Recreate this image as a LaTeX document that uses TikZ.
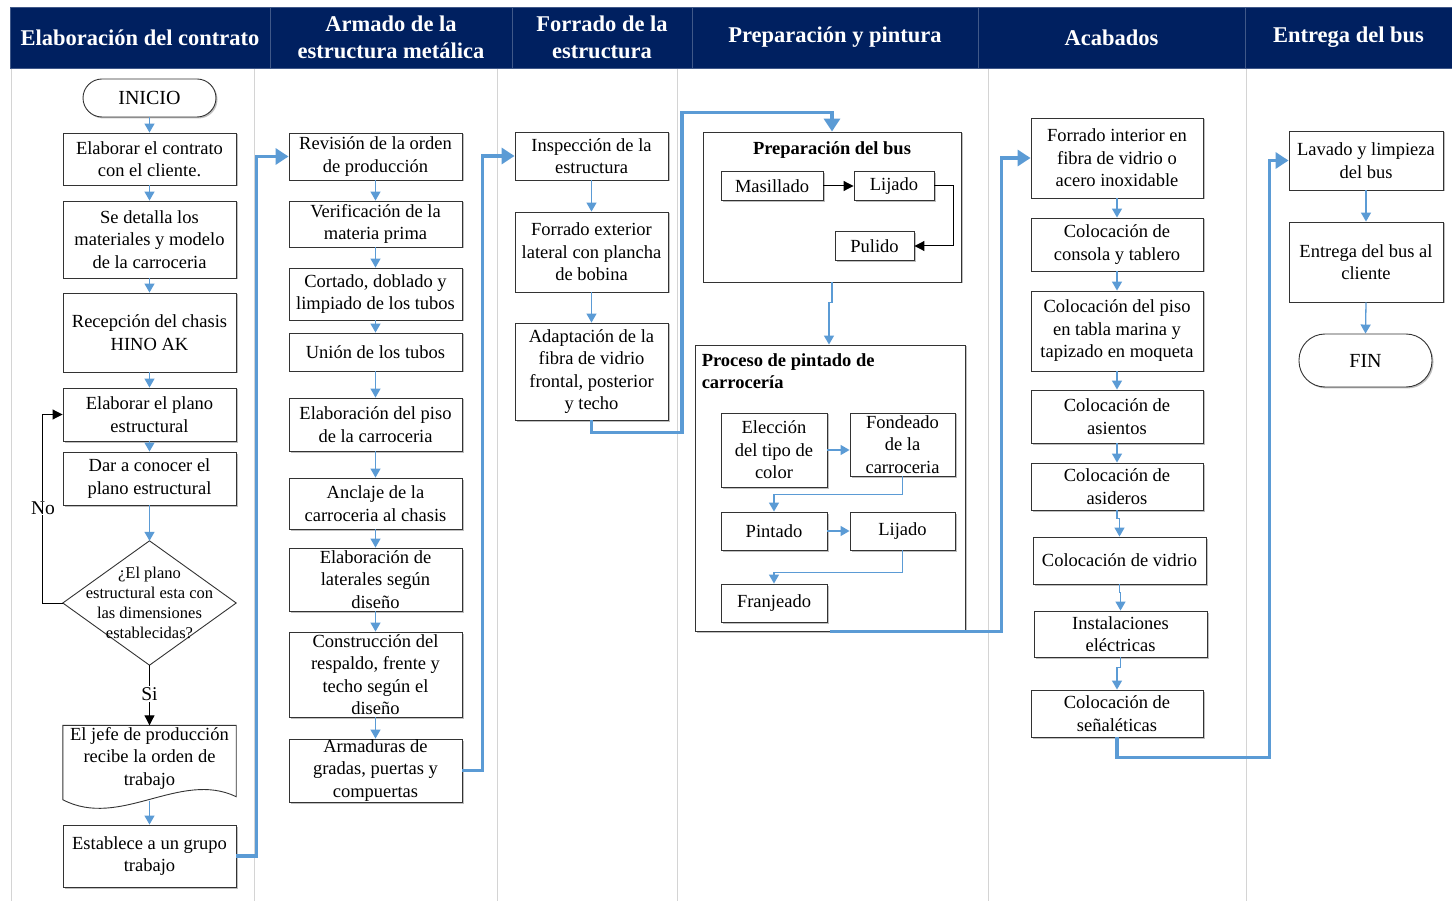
\documentclass[tikz,border=0pt]{standalone}
\usepackage{fontspec}
\setmainfont{Liberation Serif}
\usetikzlibrary{arrows.meta,shadows,calc}
\definecolor{navy}{HTML}{002060}
\definecolor{ablue}{HTML}{5B9BD5}
\definecolor{lanec}{HTML}{D4D4D4}
\tikzset{
  box/.style={draw=black!80, fill=white, line width=0.9pt, align=center, inner sep=0pt,
    font=\fontsize{18.5}{22.5}\selectfont,
    drop shadow={shadow xshift=1.5pt, shadow yshift=-1.5pt, fill=black, opacity=0.25}},
  term/.style={box, rounded corners=19pt, font=\fontsize{20}{22.5}\selectfont},
  hdr/.style={fill=navy, draw=navy!75!white, line width=0.6pt, text=white, align=center, inner sep=0pt,
    font=\bfseries\fontsize{22.5}{27}\selectfont},
  lanel/.style={draw=lanec, line width=1pt},
  sarrow/.style={draw=ablue, line width=1.3pt, -{Triangle[width=10pt,length=9pt]}},
  karrow/.style={draw=black, line width=1pt, -{Triangle[width=10pt,length=10pt]}},
  tarrow/.style={draw=ablue, line width=3.5pt, -{Triangle[width=16pt,length=13pt]}},
  lbl/.style={font=\fontsize{19.5}{20}\selectfont, fill=white, inner sep=1pt},
  ttl/.style={font=\bfseries\fontsize{18.5}{22}\selectfont, inner sep=0pt}
}
\begin{document}
\begin{tikzpicture}[x=1pt,y=-1pt]
\useasboundingbox (0,0) rectangle (1452,901);
\fill[white] (0,0) rectangle (1452,901);

% lane lines
\draw[lanel] (11,68) -- (11,901);
\draw[lanel] (254,68) -- (254,901);
\draw[lanel] (497,68) -- (497,901);
\draw[lanel] (677,68) -- (677,901);
\draw[lanel] (988,68) -- (988,901);
\draw[lanel] (1246,68) -- (1246,901);

% headers
\node[hdr, minimum width=260pt, minimum height=61pt] (h1) at (140,37.5) {Elaboración del contrato};
\node[hdr, minimum width=242pt, minimum height=61pt] (h2) at (391,37.5) {Armado de la\\estructura metálica};
\node[hdr, minimum width=180pt, minimum height=61pt] (h3) at (602,37.5) {Forrado de la\\estructura};
\node[hdr, minimum width=286pt, minimum height=61pt] (h4) at (835,37.5) {Preparación y pintura};
\node[hdr, minimum width=267pt, minimum height=61pt] (h5) at (1111.5,37.5) {Acabados};
\node[hdr, minimum width=207pt, minimum height=61pt] (h6) at (1348.5,37.5) {Entrega del bus};

% column 1
\node[term, minimum width=133pt, minimum height=38pt] (inicio) at (149.5,98) {INICIO};
\node[box, minimum width=173pt, minimum height=52pt] (c1) at (149.5,159) {Elaborar el contrato\\con el cliente.};
\node[box, minimum width=173pt, minimum height=77pt] (c2) at (149.5,239.5) {Se detalla los\\materiales y modelo\\de la carroceria};
\node[box, minimum width=173pt, minimum height=79pt] (c3) at (149.5,332.5) {Recepción del chasis\\HINO AK};
\node[box, minimum width=173pt, minimum height=53pt] (c4) at (149.5,414.5) {Elaborar el plano\\estructural};
\node[box, minimum width=173pt, minimum height=53pt] (c5) at (149.5,478.5) {Dar a conocer el\\plano estructural};
\node[minimum width=173pt, minimum height=124pt, inner sep=0pt] (dia) at (149.5,603) {};
\draw[line width=0.9pt, draw=black!80, fill=white] (dia.north) -- (dia.east) -- (dia.south) -- (dia.west) -- cycle;
\node[align=center, inner sep=0pt, font=\fontsize{16.5}{20}\selectfont] (diatxt) at (149.5,603) {¿El plano\\estructural esta con\\las dimensiones\\establecidas?};
\node[minimum width=173pt, minimum height=79pt, inner sep=0pt] (jefe) at (149.5,765) {};
\draw[line width=0.9pt, draw=black!80, fill=white] (jefe.north west) -- (jefe.north east) -- ($(jefe.south east)+(0,-8)$)
   .. controls ($(jefe.south east)+(-56,-35)$) and ($(jefe.south west)+(57,25)$) .. ($(jefe.south west)+(0,-5)$) -- cycle;
\node[align=center, inner sep=0pt, font=\fontsize{18.5}{22.5}\selectfont] (jefetxt) at (149.5,758) {El jefe de producción\\recibe la orden de\\trabajo};
\node[box, minimum width=173pt, minimum height=62pt] (c8) at (149.5,856) {Establece a un grupo\\trabajo};

% column 2
\node[box, minimum width=173pt, minimum height=47pt] (a1) at (375.5,156.5) {Revisión de la orden\\de producción};
\node[box, minimum width=173pt, minimum height=46pt] (a2) at (375.5,224) {Verificación de la\\materia prima};
\node[box, minimum width=173pt, minimum height=52pt] (a3) at (375.5,294) {Cortado, doblado y\\limpiado de los tubos};
\node[box, minimum width=173pt, minimum height=38pt] (a4) at (375.5,352) {Unión de los tubos};
\node[box, minimum width=173pt, minimum height=53pt] (a5) at (375.5,424.5) {Elaboración del piso\\de la carroceria};
\node[box, minimum width=173pt, minimum height=51pt] (a6) at (375.5,503.5) {Anclaje de la\\carroceria al chasis};
\node[box, minimum width=173pt, minimum height=63pt] (a7) at (375.5,579.5) {Elaboración de\\laterales según\\diseño};
\node[box, minimum width=173pt, minimum height=85pt] (a8) at (375.5,674.5) {Construcción del\\respaldo, frente y\\techo según el\\diseño};
\node[box, minimum width=173pt, minimum height=63pt] (a9) at (375.5,770.5) {Armaduras de\\gradas, puertas y\\compuertas};

% column 3
\node[box, minimum width=153pt, minimum height=48pt] (f1) at (591.5,156) {Inspección de la\\estructura};
\node[box, minimum width=153pt, minimum height=80pt] (f2) at (591.5,252) {Forrado exterior\\lateral con plancha\\de bobina};
\node[box, minimum width=153pt, minimum height=97pt] (f3) at (591.5,371.5) {Adaptación de la\\fibra de vidrio\\frontal, posterior\\y techo};

% column 4
\node[box, minimum width=258pt, minimum height=150pt] (prep) at (832,207) {};
\node[ttl, anchor=north] (preptitle) at ($(prep.north)+(0,10)$) {Preparación del bus};
\node[box, minimum width=102pt, minimum height=29pt] (mas) at (772,186) {Masillado};
\node[box, minimum width=80pt, minimum height=29pt] (lij1) at (894,186) {Lijado};
\node[box, minimum width=79pt, minimum height=29pt] (pul) at (874.5,246) {Pulido};

\node[box, minimum width=270pt, minimum height=286pt] (proc) at (830,488) {};
\node[ttl, anchor=north west, align=left] (proctitle) at ($(proc.north west)+(7,9)$) {Proceso de pintado de\\carrocería};
\node[box, minimum width=106pt, minimum height=74pt] (elec) at (774,450) {Elección\\del tipo de\\color};
\node[box, minimum width=105pt, minimum height=63pt] (fond) at (902.5,444.5) {Fondeado\\de la\\carroceria};
\node[box, minimum width=106pt, minimum height=38pt] (pint) at (774,531) {Pintado};
\node[box, minimum width=105pt, minimum height=38pt] (lij2) at (902.5,531) {Lijado};
\node[box, minimum width=106pt, minimum height=38pt] (franj) at (774,603) {Franjeado};

% column 5
\node[box, minimum width=172pt, minimum height=80pt] (k1) at (1117,158) {Forrado interior en\\fibra de vidrio o\\acero inoxidable};
\node[box, minimum width=172pt, minimum height=53pt] (k2) at (1117,244.5) {Colocación de\\consola y tablero};
\node[box, minimum width=172pt, minimum height=80pt] (k3) at (1117,331) {Colocación del piso\\en tabla marina y\\tapizado en moqueta};
\node[box, minimum width=172pt, minimum height=53pt] (k4) at (1117,416.5) {Colocación de\\asientos};
\node[box, minimum width=172pt, minimum height=47pt] (k5) at (1117,486.5) {Colocación de\\asideros};
\node[box, minimum width=173pt, minimum height=47pt] (k6) at (1119.5,560.5) {Colocación de vidrio};
\node[box, minimum width=173pt, minimum height=46pt] (k7) at (1120.5,634) {Instalaciones\\eléctricas};
\node[box, minimum width=172pt, minimum height=47pt] (k8) at (1117,713.5) {Colocación de\\señaléticas};

% column 6
\node[box, minimum width=154pt, minimum height=59pt] (e1) at (1366,160.5) {Lavado y limpieza\\del bus};
\node[box, minimum width=154pt, minimum height=80pt] (e2) at (1366,262) {Entrega del bus al\\cliente};
\node[term, minimum width=133pt, minimum height=53pt, rounded corners=26pt] (fin) at (1365.5,360.5) {FIN};

% connectors column 1
\draw[sarrow] (inicio.south) -- (c1.north);
\draw[sarrow] (c1.south) -- (c2.north);
\draw[sarrow] (c2.south) -- (c3.north);
\draw[sarrow] (c3.south) -- (c4.north);
\draw[sarrow] (c4.south) -- (c5.north);
\draw[sarrow] (c5.south) -- (dia.north);
\draw[karrow] (dia.south) -- (jefe.north);
\node[lbl] (si) at (149.5,694) {Si};
\draw[karrow] (dia.west) -- ++(-20,0) |- (c4.west);
\node[lbl] (no) at (43,508) {No};
\draw[sarrow] ($(jefe.south)+(0,-4)$) -- (c8.north);

% column 2
\draw[sarrow] (a1.south) -- (a2.north);
\draw[sarrow] (a2.south) -- (a3.north);
\draw[sarrow] (a3.south) -- (a4.north);
\draw[sarrow] (a4.south) -- (a5.north);
\draw[sarrow] (a5.south) -- (a6.north);
\draw[sarrow] (a6.south) -- (a7.north);
\draw[sarrow] (a7.south) -- (a8.north);
\draw[sarrow] (a8.south) -- (a9.north);

% column 3
\draw[sarrow] (f1.south) -- (f2.north);
\draw[sarrow] (f2.south) -- (f3.north);

% column 4
\draw[karrow] (mas.east) -- (lij1.west);
\draw[karrow] (lij1.east) -- ++(19,0) |- (pul.east);
\draw[sarrow] (prep.south) -- ++(0,20) -| ($(proc.north)+(-1,0)$);
\draw[sarrow] (elec.east) -- (fond.west |- elec.east);
\draw[sarrow] (fond.south) -- ++(0,18) -| (pint.north);
\draw[sarrow] (pint.east) -- (lij2.west);
\draw[sarrow] (lij2.south) -- ++(0,22) -| (franj.north);

% column 5
\draw[sarrow] (k1.south) -- (k2.north);
\draw[sarrow] (k2.south) -- (k3.north);
\draw[sarrow] (k3.south) -- (k4.north);
\draw[sarrow] (k4.south) -- (k5.north);
\draw[sarrow] (k5.south) -- ++(0,8) -| (k6.north);
\draw[sarrow] (k6.south) -- ++(0,8) -| (k7.north);
\draw[sarrow] (k7.south) -- ++(0,10) -| (k8.north);

% column 6
\draw[sarrow] (e1.south) -- (e2.north);
\draw[sarrow] (e2.south) -- (fin.north);

% thick lane connectors
\draw[tarrow] (c8.east) -- ++(20,0) |- (a1.west);
\draw[tarrow] (a9.east) -- ++(20,0) |- (f1.west);
\draw[tarrow] (f3.south) -- ++(0,12) -| ($(prep.north)+(-150,-19)$) -| (prep.north);
\draw[tarrow] (proc.south) -| ($(k1.west)+(-29,0)$) -- (k1.west);
\draw[tarrow] (k8.south) -- ++(0,20) -| ($(e1.west)+(-19,0)$) -- (e1.west);
\end{tikzpicture}
\end{document}
